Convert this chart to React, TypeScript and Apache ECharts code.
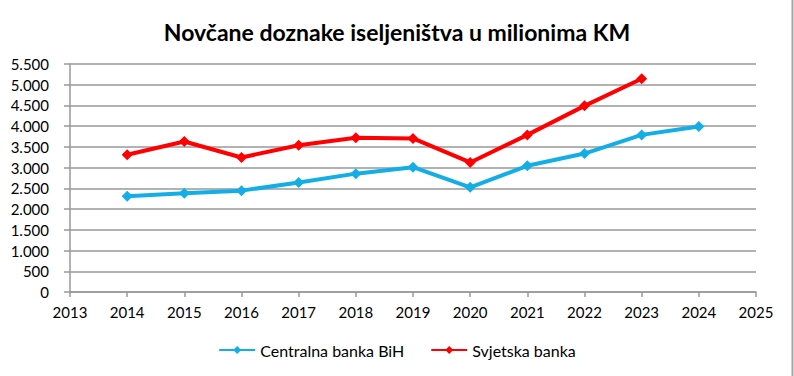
import React, { useEffect, useRef } from "react";
import * as echarts from "echarts";

const years = [2014, 2015, 2016, 2017, 2018, 2019, 2020, 2021, 2022, 2023, 2024];
const centralnaBanka = [2310, 2380, 2445, 2640, 2855, 3010, 2525, 3045, 3340, 3790, 3990];
const svjetskaBanka = [3310, 3630, 3245, 3540, 3720, 3705, 3125, 3790, 4490, 5145];
const seriesNames = ["Centralna banka BiH", "Svjetska banka"];
const titleText = "Novčane doznake iseljeništva u milionima KM";

const FONT = "Lato, 'Open Sans', sans-serif";

function fmtThousands(v: number): string {
  return String(v).replace(/\B(?=(\d{3})+(?!\d))/g, ".");
}

export default function App() {
  const ref = useRef<HTMLDivElement>(null);
  useEffect(() => {
    if (!ref.current) return;
    const chart = echarts.init(ref.current, undefined, { renderer: "svg" });
    chart.setOption({
      animation: false,
      backgroundColor: "#ffffff",
      title: {
        text: titleText,
        left: "center",
        top: 15,
        textStyle: { fontFamily: FONT, fontSize: 23, fontWeight: "bold", color: "#000" },
      },
      grid: { left: 70, right: 38, top: 64, bottom: 84, containLabel: false },
      legend: {
        bottom: 13,
        left: "center",
        itemWidth: 36,
        itemHeight: 10,
        itemGap: 26,
        textStyle: { fontFamily: FONT, fontSize: 16, color: "#000" },
        data: seriesNames,
      },
      xAxis: {
        type: "value",
        min: 2013,
        max: 2025,
        interval: 1,
        axisLine: { show: true, lineStyle: { color: "#999", width: 1.5 } },
        axisTick: { show: true, length: 5, lineStyle: { color: "#999", width: 1.5 } },
        splitLine: { show: false },
        axisLabel: {
          fontFamily: FONT,
          fontSize: 15,
          color: "#000",
          margin: 12,
          formatter: (v: number) => String(v),
        },
      },
      yAxis: {
        type: "value",
        min: 0,
        max: 5500,
        interval: 500,
        axisLine: { show: true, lineStyle: { color: "#999", width: 1.5 } },
        axisTick: { show: true, length: 6, lineStyle: { color: "#999", width: 1.5 } },
        splitLine: { show: true, lineStyle: { color: "#999", width: 1.5 } },
        axisLabel: {
          fontFamily: FONT,
          fontSize: 15,
          color: "#000",
          margin: 21,
          formatter: (v: number) => fmtThousands(v),
        },
      },
      series: [
        {
          name: seriesNames[0],
          type: "line",
          data: years.map((y, i) => [y, centralnaBanka[i]]),
          symbol: "diamond",
          symbolSize: 11,
          lineStyle: { color: "#14aee6", width: 4 },
          itemStyle: { color: "#14aee6" },
        },
        {
          name: seriesNames[1],
          type: "line",
          data: svjetskaBanka.map((v, i) => [years[i], v]),
          symbol: "diamond",
          symbolSize: 11,
          lineStyle: { color: "#ff0000", width: 4 },
          itemStyle: { color: "#ff0000" },
        },
      ],
      graphic: [
        {
          type: "line",
          shape: { x1: 792.5, y1: 0, x2: 792.5, y2: 376 },
          style: { stroke: "#a6a6a6", lineWidth: 2 },
        },
      ],
    });
    return () => chart.dispose();
  }, []);
  return <div ref={ref} style={{ width: 794, height: 376, position: "absolute", left: 0, top: 0 }} />;
}
